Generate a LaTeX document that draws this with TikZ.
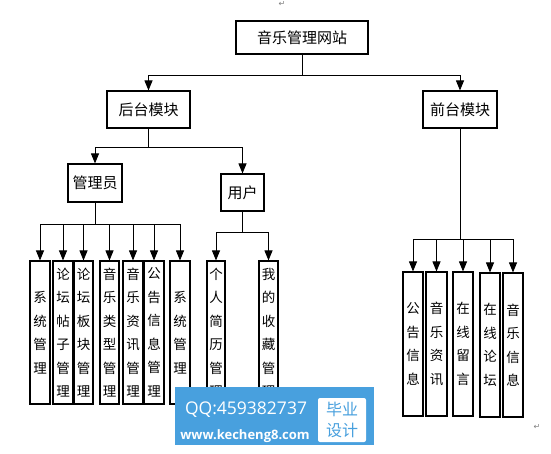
\documentclass[tikz,border=0pt]{standalone}
\usepackage{fontspec}
\setmainfont{Liberation Serif}
\newfontfamily\cjk{Noto Sans CJK SC}
\newfontfamily\wmfont{Open Sans}
\newfontfamily\symfont{DejaVu Sans}
\usetikzlibrary{arrows.meta}
\definecolor{wmblue}{RGB}{72,160,222}
\begin{document}
\begin{tikzpicture}[x=1pt,y=-1pt,
  box/.style={draw, line width=1.1pt, inner sep=0pt, font=\cjk\fontsize{15}{18}\selectfont},
  vbox/.style={draw, line width=1.1pt, inner sep=0pt, minimum width=20pt, minimum height=143pt, align=center, font=\cjk\fontsize{13.5}{23.5}\selectfont},
  arr/.style={line width=0.9pt, -{Triangle[width=8pt,length=10pt]}},
  retmark/.style={font=\symfont\fontsize{8}{8}\selectfont, text=gray}]
\useasboundingbox (0,0) rectangle (551,453);
\fill[white] (0,0) rectangle (551,453);

% main boxes
\node[box, minimum width=132pt, minimum height=33pt] (top) at (302,37.5) {音乐管理网站};
\node[box, minimum width=83pt, minimum height=37pt] (hou) at (148.5,109.5) {后台模块};
\node[box, minimum width=74pt, minimum height=37pt] (qian) at (460,109.5) {前台模块};
\node[box, minimum width=54pt, minimum height=38pt] (gly) at (95,183) {管理员};
\node[box, minimum width=43pt, minimum height=37pt] (yh) at (242.5,192.5) {用户};

% admin children
\node[vbox] (a1) at (40,332.5) {系\\统\\管\\理};
\node[vbox] (a2) at (63,332.5) {论\\坛\\帖\\子\\管\\理};
\node[vbox, minimum width=19pt] (a3) at (83.5,332.5) {论\\坛\\板\\块\\管\\理};
\node[vbox, minimum width=19pt] (a4) at (109.5,332.5) {音\\乐\\类\\型\\管\\理};
\node[vbox] (a5) at (133,332.5) {音\\乐\\资\\讯\\管\\理};
\node[vbox] (a6) at (154,332.5) {公\\告\\信\\息\\管\\理};
\node[vbox] (a7) at (180,332.5) {系\\统\\管\\理};

% user children
\node[vbox, minimum width=18pt] (u1) at (216,332.5) {个\\人\\简\\历\\管\\理};
\node[vbox, minimum width=19pt] (u2) at (268.5,332.5) {我\\的\\收\\藏\\管\\理};

% front children
\node[vbox, minimum height=144pt] (f1) at (413,344) {公\\告\\信\\息};
\node[vbox, minimum height=144pt, minimum width=21pt] (f2) at (436.5,344) {音\\乐\\资\\讯};
\node[vbox, minimum height=144pt] (f3) at (463,344) {在\\线\\留\\言};
\node[vbox, minimum height=144pt] (f4) at (490,345) {在\\线\\论\\坛};
\node[vbox, minimum height=144pt] (f5) at (513,345) {音\\乐\\信\\息};

% connectors
\draw[arr] (top.south) -- ++(0,21) -| (hou.north);
\draw[arr] (top.south) -- ++(0,21) -| (qian.north);
\draw[arr] (hou.south) -- ++(0,19) -| (gly.north);
\draw[arr] (hou.south) -- ++(0,19) -| (yh.north);
\foreach \c in {a1,a2,a3,a4,a5,a6,a7}
  \draw[arr] (gly.south) -- ++(0,22) -| (\c.north);
\foreach \c in {u1,u2}
  \draw[arr] (yh.south) -- ++(0,21) -| (\c.north);
\foreach \c in {f1,f2,f3,f4,f5}
  \draw[arr] (qian.south) -- ++(0,111) -| (\c.north);

% paragraph marks
\node[retmark] (rm1) at (282,4) {↵};
\node[retmark] (rm2) at (537,427) {↵};

% watermark
\node[fill=wmblue, minimum width=199pt, minimum height=58pt, inner sep=0pt] (wm) at (274.5,416) {};
\node[text=white, font=\wmfont\fontsize{17.5}{20}\selectfont, inner sep=0pt] (qq) at (246,410) {QQ:459382737};
\node[text=white, font=\wmfont\bfseries\fontsize{13}{15}\selectfont, inner sep=0pt] (url) at (245,436) {www.kecheng8.com};
\node[fill=white, rounded corners=2pt, minimum width=48pt, minimum height=44pt, text=wmblue, align=center, font=\cjk\fontsize{16}{21}\selectfont, inner sep=0pt] (by) at (342,420) {毕业\\设计};
\end{tikzpicture}
\end{document}
